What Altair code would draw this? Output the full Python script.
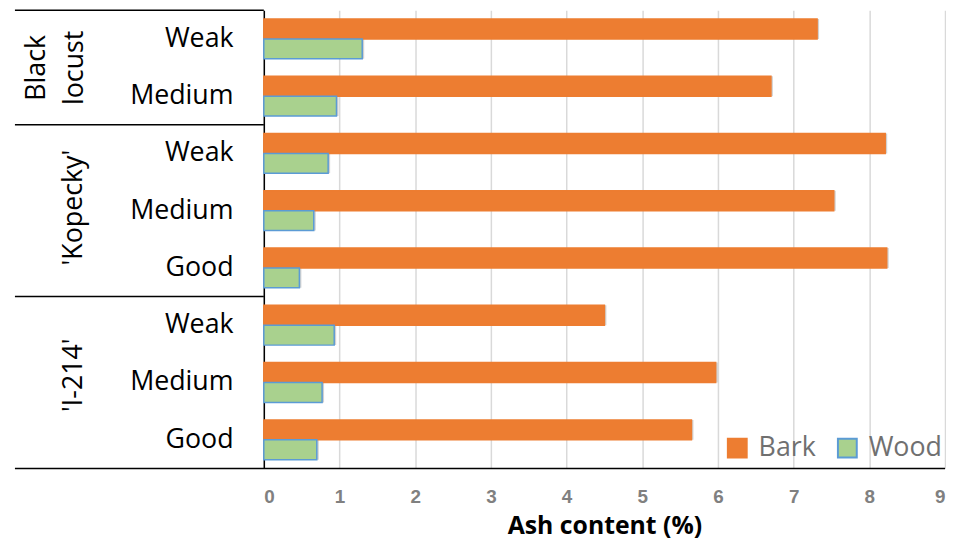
import altair as alt
import pandas as pd

groups = ["Black locust", "Black locust", "'Kopecky'", "'Kopecky'", "'Kopecky'",
          "'I-214'", "'I-214'", "'I-214'"]
conditions = ["Weak", "Medium", "Weak", "Medium", "Good", "Weak", "Medium", "Good"]
bark = [7.31, 6.70, 8.21, 7.53, 8.23, 4.50, 5.97, 5.65]
wood = [1.30, 0.96, 0.85, 0.66, 0.47, 0.93, 0.77, 0.70]
series = ["Bark", "Wood"]
fill_colors = ["#ED7D31", "#A9D18E"]
stroke_colors = ["#ED7D31", "#5B9BD5"]
group_titles = ["Black\nlocust", "'Kopecky'", "'I-214'"]
x_ticks = list(range(10))
x_title = "Ash content (%)"

keys = [f"{g}|{c}" for g, c in zip(groups, conditions)]
rows = []
for k, b, w in zip(keys, bark, wood):
    rows.append({"key": k, "series": series[0], "value": b})
    rows.append({"key": k, "series": series[1], "value": w})
df = pd.DataFrame(rows)

W, H = 687, 462
LEFT = -251

yscale = alt.Scale(domain=keys, paddingInner=0, paddingOuter=0)
y_axis = alt.Axis(
    labelExpr="split(datum.value, '|')[1]", labelFont="Open Sans",
    labelFontSize=27, labelColor="#000000", labelPadding=31, ticks=False,
    domain=True, domainColor="#000000", domainWidth=1.5, grid=False,
    labelOverlap=False,
)

x_enc = alt.X(
    "value:Q",
    scale=alt.Scale(domain=[0, 9], nice=False, zero=True),
    axis=alt.Axis(
        values=x_ticks, title=x_title, grid=True, gridColor="#D9D9D9", gridWidth=1.5,
        domain=False, ticks=False, labelPadding=19,
        labelFont="Liberation Sans Narrow, Liberation Sans, sans-serif",
        labelFontWeight="bold", labelFontSize=19, labelColor="#808080",
        titleFont="Open Sans", titleFontSize=25, titleFontWeight="bold",
        titleColor="#000000", titlePadding=8,
    ),
)
y_enc = alt.Y("key:N", scale=yscale, sort=keys, title=None, axis=y_axis)
yoff_enc = alt.YOffset("series:N", sort=series,
                       scale=alt.Scale(domain=series, paddingInner=0, paddingOuter=0.44))

shadow = alt.Chart(df).mark_bar(color="#000000", opacity=0.18, xOffset=2, yOffset=4).encode(
    x=x_enc, y=y_enc, yOffset=yoff_enc
)

bars = alt.Chart(df).mark_bar(strokeWidth=1.5).encode(
    x=x_enc,
    y=y_enc,
    yOffset=yoff_enc,
    color=alt.Color("series:N", sort=series,
                    scale=alt.Scale(domain=series, range=fill_colors),
                    legend=alt.Legend(title=None)),
    stroke=alt.Stroke("series:N", sort=series,
                      scale=alt.Scale(domain=series, range=stroke_colors),
                      legend=alt.Legend(title=None)),
)

# frame lines of the category box
top_line = alt.Chart(pd.DataFrame({"k": [0]})).mark_rule(color="#000000", strokeWidth=1.5).encode(
    x=alt.value(LEFT), x2=alt.value(0), y=alt.value(0)
)
bottom_line = alt.Chart(pd.DataFrame({"k": [0]})).mark_rule(color="#000000", strokeWidth=1.5).encode(
    x=alt.value(LEFT), x2=alt.value(W), y=alt.value(H)
)
dividers = alt.Chart(pd.DataFrame({"key": [keys[2], keys[5]]})).mark_rule(
    color="#000000", strokeWidth=1.5
).encode(
    y=alt.Y("key:N", scale=yscale, sort=keys, bandPosition=0, title=None, axis=y_axis),
    x=alt.value(LEFT), x2=alt.value(0),
)

def group_label(text, xpos, ypos):
    return alt.Chart(pd.DataFrame({"t": [text]})).mark_text(
        angle=270, align="center", baseline="middle", font="Open Sans",
        fontSize=27, lineHeight=39, lineBreak="\n", color="#000000"
    ).encode(text="t:N", x=alt.value(xpos), y=alt.value(ypos))

g1 = group_label(group_titles[0], -229, 58)
g2 = group_label(group_titles[1], -191, 199)
g3 = group_label(group_titles[2], -191, 368)

chart = alt.layer(
    shadow, bars, top_line, bottom_line, dividers, g1, g2, g3
).properties(
    width=W, height=H,
    autosize=alt.AutoSizeParams(type="none"),
    padding={"left": 258, "top": 0, "right": 1, "bottom": 82},
).configure_view(
    stroke=None
).configure_legend(
    orient="none", legendX=464, legendY=428, direction="horizontal",
    symbolType="square", symbolSize=361, symbolStrokeWidth=2,
    labelFont="Open Sans", labelFontSize=27, labelColor="#707070",
    labelOffset=8, columnPadding=18, padding=0,
)

chart.save("out.html", embed_options={"renderer": "svg", "actions": False})
